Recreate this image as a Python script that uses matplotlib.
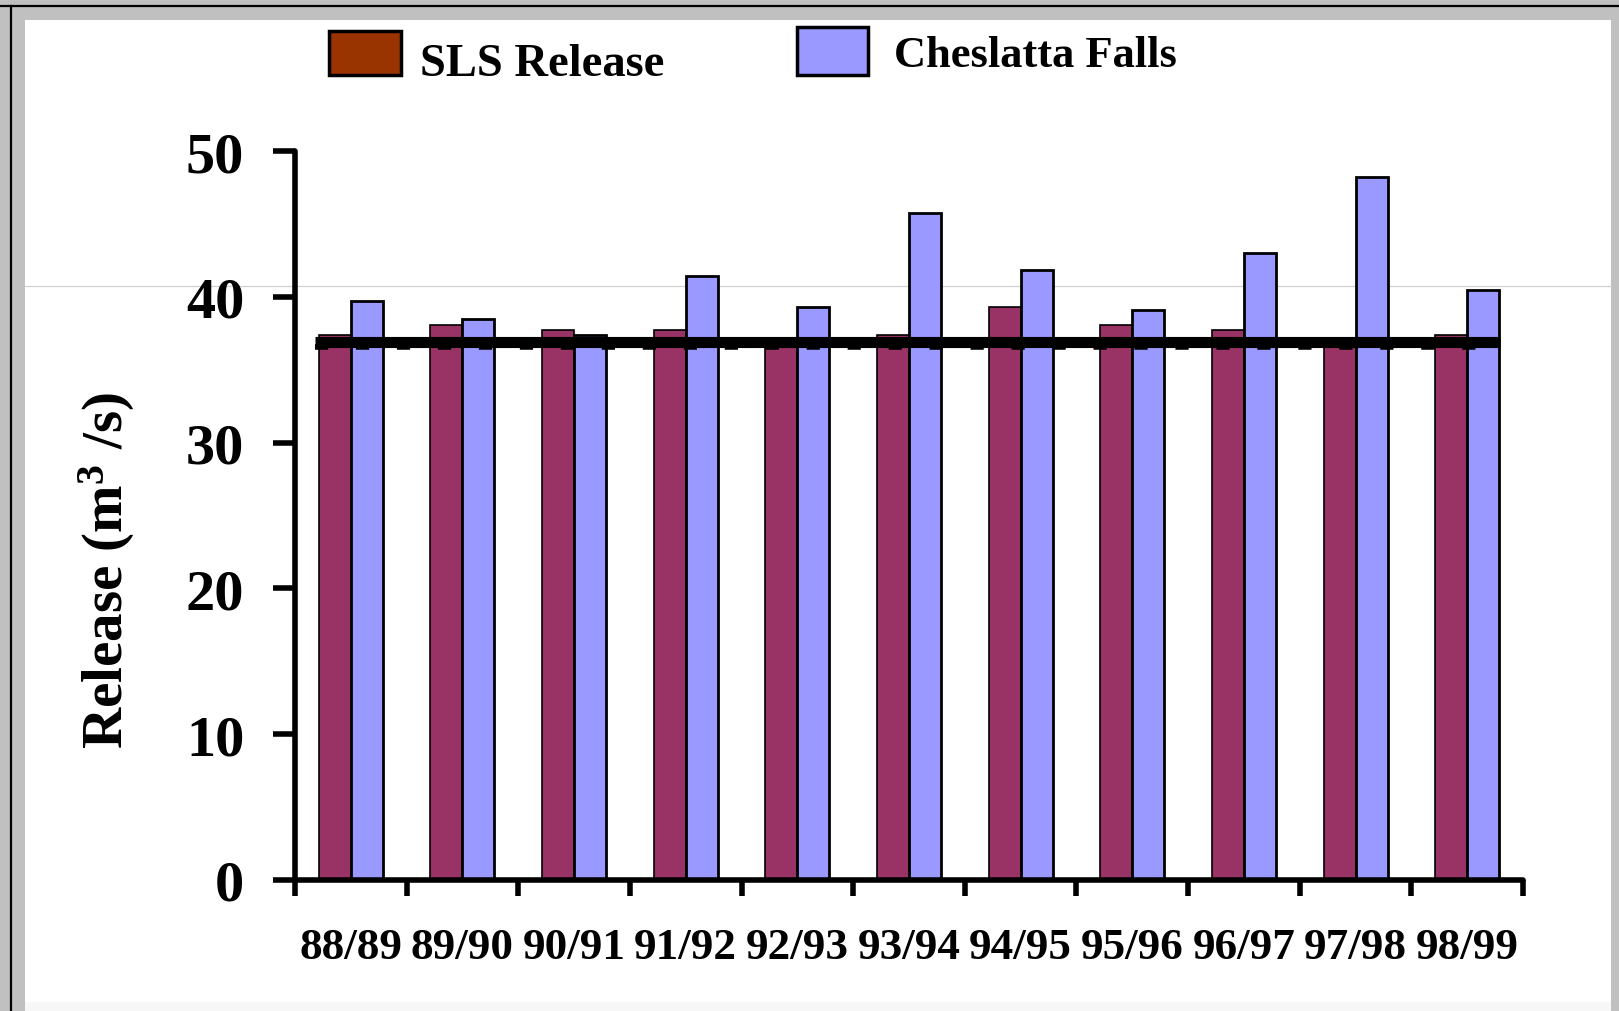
import matplotlib
matplotlib.use("Agg")
import matplotlib.pyplot as plt
import numpy as np
from matplotlib.lines import Line2D
from matplotlib.patches import Rectangle

plt.rcParams['font.family'] = ['Liberation Serif', 'DejaVu Serif']
plt.rcParams['font.weight'] = 'bold'
plt.rcParams['mathtext.fontset'] = 'custom'
plt.rcParams['mathtext.rm'] = 'Liberation Serif:bold'
plt.rcParams['mathtext.it'] = 'Liberation Serif:bold'
plt.rcParams['mathtext.bf'] = 'Liberation Serif:bold'
plt.rcParams['lines.scale_dashes'] = False

# water years and mean releases (m3/s)
years = ['88/89', '89/90', '90/91', '91/92', '92/93', '93/94',
         '94/95', '95/96', '96/97', '97/98', '98/99']
sls_release = [37.4, 38.1, 37.75, 37.75, 36.9, 37.4, 39.3, 38.1, 37.7, 36.6, 37.4]
cheslatta_falls = [39.7, 38.5, 37.4, 41.45, 39.3, 45.75, 41.85, 39.1, 43.0, 48.25, 40.45]
solid_level = 36.92
dashed_level = 36.58
y_ticks = [0, 10, 20, 30, 40, 50]

sls_color = '#993366'
sls_key_color = '#993300'
ches_color = '#9999FF'

W, H = 1619, 1012
fig = plt.figure(figsize=(W / 100, H / 100), dpi=100, facecolor='#C0C0C0')


def fx(px):
    return px / W


def fy(py):
    return 1 - py / H


# white panel with the dark frame lines
fig.patches.append(Rectangle((fx(25), 0), fx(1611) - fx(25), fy(21),
                             transform=fig.transFigure, facecolor='white',
                             edgecolor='none', zorder=-2))
fig.patches.append(Rectangle((fx(25), 0), fx(1611) - fx(25), fy(1003),
                             transform=fig.transFigure, facecolor='#F7F7F7',
                             edgecolor='none', zorder=-2))
fig.lines.append(Line2D([0, 1], [fy(6.5), fy(6.5)], transform=fig.transFigure,
                        color='black', lw=1.6, zorder=-1))
fig.lines.append(Line2D([fx(11), fx(11)], [0, fy(6.5)], transform=fig.transFigure,
                        color='black', lw=1.6, zorder=-1))
fig.lines.append(Line2D([fx(25), fx(1611)], [fy(287.3), fy(287.3)],
                        transform=fig.transFigure, color='#D0D0D0', lw=0.9, zorder=-1))

ax = fig.add_axes([fx(295), fy(880.7), fx(1523) - fx(295), fy(152.3) - fy(880.7)])
ax.set_facecolor('none')

x = np.arange(len(years)) + 0.5
w = 0.287
ax.bar(x - w / 2, sls_release, width=w, color=sls_color,
       edgecolor='black', linewidth=1.2, zorder=2)
ax.bar(x + w / 2, cheslatta_falls, width=w, color=ches_color,
       edgecolor='black', linewidth=2.0, zorder=2)

x0, x1 = x[0] - w - 0.03, x[-1] + w + 0.01
ax.plot([x0, x1], [dashed_level, dashed_level], color='black', lw=4.0,
        dashes=(9.5, 20), zorder=3, solid_capstyle='butt')
ax.plot([x0, x1], [solid_level, solid_level], color='black', lw=8.0,
        zorder=4, solid_capstyle='butt')

ax.set_xlim(0, len(years))
ax.set_ylim(0, 50)
ax.set_yticks(y_ticks)
ax.set_yticklabels([str(t) for t in y_ticks], fontsize=42, fontweight='bold')
ax.set_xticks(np.arange(len(years) + 1))
ax.set_xticklabels([])
ax.set_xticks(x, minor=True)
ax.set_xticklabels(years, minor=True, fontsize=32.5, fontweight='bold')
ax.tick_params(axis='x', which='minor', length=0, pad=34)
ax.tick_params(axis='x', which='major', length=11.5, width=4, direction='out')
ax.tick_params(axis='y', length=15.5, width=4, direction='out', pad=21)

for side in ['top', 'right']:
    ax.spines[side].set_visible(False)
for side in ['left', 'bottom']:
    ax.spines[side].set_linewidth(4)
    ax.spines[side].set_capstyle('round')

ax.set_ylabel(r'Release (m$^{3}$ /s)', fontsize=41, fontweight='bold')
ax.yaxis.set_label_coords(fx(137), fy(571), transform=fig.transFigure)

# legend keys drawn by hand
fig.patches.append(Rectangle((fx(329), fy(76)), fx(401) - fx(329), fy(32) - fy(76),
                             transform=fig.transFigure, facecolor=sls_key_color,
                             edgecolor='black', lw=2.5, zorder=3))
fig.patches.append(Rectangle((fx(797), fy(76)), fx(868) - fx(797), fy(28) - fy(76),
                             transform=fig.transFigure, facecolor=ches_color,
                             edgecolor='black', lw=2.5, zorder=3))
fig.text(fx(420), fy(76), 'SLS Release', fontsize=33.5, fontweight='bold',
         ha='left', va='baseline')
fig.text(fx(894), fy(67), 'Cheslatta Falls', fontsize=32, fontweight='bold',
         ha='left', va='baseline')

fig.savefig('out.png', dpi=100, facecolor=fig.get_facecolor())
